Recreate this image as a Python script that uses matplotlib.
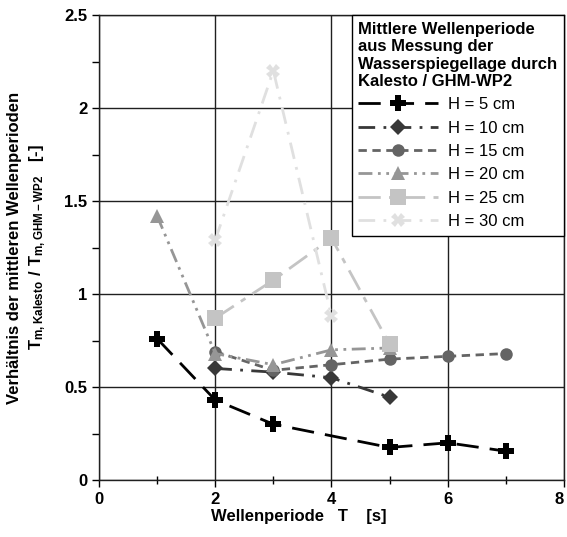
import matplotlib.pyplot as plt
from matplotlib.ticker import MultipleLocator, FixedLocator, FuncFormatter

plt.rcParams['font.family'] = ['Liberation Sans', 'DejaVu Sans']
plt.rcParams['mathtext.fontset'] = 'custom'
plt.rcParams['mathtext.rm'] = 'Liberation Sans'
plt.rcParams['mathtext.bf'] = 'Liberation Sans:bold'

# data
t_h5 = [1, 2, 3, 5, 6, 7]
r_h5 = [0.76, 0.43, 0.30, 0.175, 0.20, 0.155]
t_h10 = [2, 3, 4, 5]
r_h10 = [0.60, 0.58, 0.55, 0.445]
t_h15 = [2, 3, 4, 5, 6, 7]
r_h15 = [0.69, 0.59, 0.62, 0.65, 0.665, 0.68]
t_h20 = [1, 2, 3, 4, 5]
r_h20 = [1.42, 0.68, 0.62, 0.70, 0.71]
t_h25 = [2, 3, 4, 5]
r_h25 = [0.87, 1.075, 1.30, 0.73]
t_h30 = [2, 3, 4]
r_h30 = [1.29, 2.20, 0.88]

labels = ['H = 5 cm', 'H = 10 cm', 'H = 15 cm', 'H = 20 cm', 'H = 25 cm', 'H = 30 cm']
x_ticks = [0, 2, 4, 6, 8]

series = [
    (t_h5, r_h5, 'black', 'P', 11, (0, (8, 4))),
    (t_h10, r_h10, '#383838', 'D', 8, (0, (6, 3, 1, 3))),
    (t_h15, r_h15, '#646464', 'o', 9, (0, (3, 2))),
    (t_h20, r_h20, '#969696', '^', 10, (0, (5, 2, 1, 2, 1, 2))),
    (t_h25, r_h25, '#c4c4c4', 's', 11, (0, (8, 3, 2, 3))),
    (t_h30, r_h30, '#e0e0e0', 'X', 10, (0, (6, 3, 1, 3))),
]

fig = plt.figure(figsize=(5.67, 5.37), dpi=100)
ax = fig.add_axes([0.1746, 0.1061, 0.8201, 0.8659])

for (x, y, c, m, ms, ls), lab in zip(series, labels):
    ax.plot(x, y, color=c, marker=m, markersize=ms, linestyle=ls, linewidth=2,
            markeredgewidth=0, label=lab, zorder=3)

ax.set_xlim(0, 8)
ax.set_ylim(0, 2.5)
ax.xaxis.set_major_locator(FixedLocator(x_ticks))
ax.xaxis.set_minor_locator(MultipleLocator(1))
ax.yaxis.set_major_locator(MultipleLocator(0.5))
ax.yaxis.set_minor_locator(MultipleLocator(0.25))
fmt = FuncFormatter(lambda v, pos: f'{v:g}')
ax.xaxis.set_major_formatter(fmt)
ax.yaxis.set_major_formatter(fmt)
ax.tick_params(which='major', direction='out', length=5, width=1, labelsize=12, colors='black')
ax.tick_params(axis='x', which='minor', direction='inout', length=6, width=1)
ax.tick_params(axis='y', which='minor', direction='out', length=5, width=1)
for lbl in ax.get_xticklabels() + ax.get_yticklabels():
    lbl.set_fontweight('bold')
# keep the "8" inside the picture
ax.get_xticklabels()[-1].set_horizontalalignment('right')

ax.grid(True, which='major', color='#202020', linewidth=1)
ax.set_axisbelow(True)
for sp in ax.spines.values():
    sp.set_linewidth(1)
    sp.set_color('#202020')

ax.set_xlabel('Wellenperiode   T    [s]', fontsize=12, fontweight='bold')
ax.xaxis.set_label_coords(0.43, -0.062)
ax.set_ylabel('Verhältnis der mittleren Wellenperioden\n'
              r'$\mathbf{T_{m,Kalesto}\ /\ T_{m,GHM-WP2}}$   [-]',
              fontsize=12, fontweight='bold', linespacing=1.4)
ax.yaxis.set_label_coords(-0.11, 0.5)

leg = ax.legend(loc='upper right', bbox_to_anchor=(1, 1), borderaxespad=0,
                title='Mittlere Wellenperiode\naus Messung der\nWasserspiegellage durch\nKalesto / GHM-WP2',
                fontsize=12, title_fontproperties={'weight': 'bold', 'size': 12},
                handlelength=4.8, labelspacing=0.5, handletextpad=0.6,
                fancybox=False, framealpha=1, edgecolor='black', alignment='left',
                borderpad=0.4)
leg.get_frame().set_linewidth(1)

fig.savefig('out.png', dpi=100)
